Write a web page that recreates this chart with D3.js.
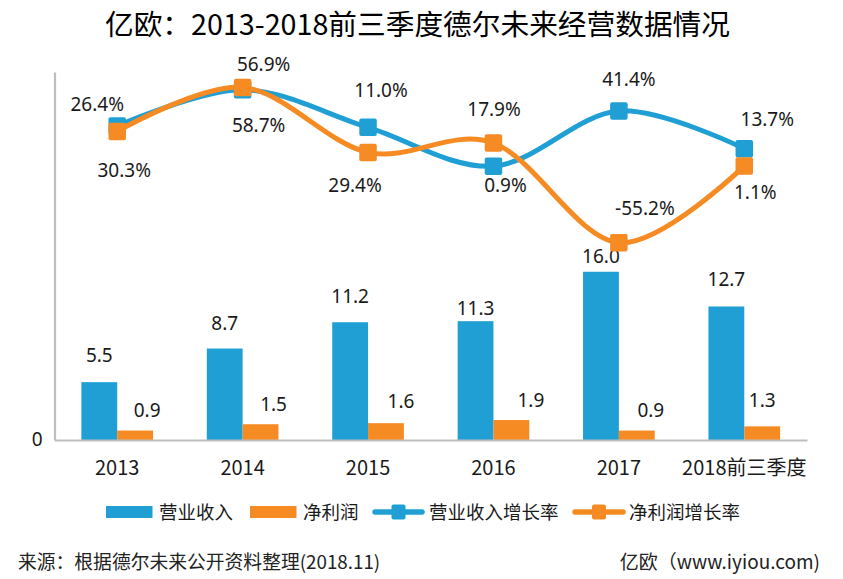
<!DOCTYPE html>
<html>
<head>
<meta charset="utf-8">
<script src="https://cdn.jsdelivr.net/npm/d3@7"></script>
<style>
  html, body { margin: 0; padding: 0; background: #fff; }
  svg { display: block; }
  text { font-family: "Noto Sans", "Noto Sans CJK SC", sans-serif; fill: #1a1a1a; }
  .cjk { font-family: "Noto Sans CJK SC", "Noto Sans", sans-serif; }
</style>
</head>
<body>
<svg id="chart" width="843" height="579"></svg>
<script>
// ---------------- data ----------------
const categories = ["2013", "2014", "2015", "2016", "2017", "2018前三季度"];
const revenue = [5.5, 8.7, 11.2, 11.3, 16.0, 12.7];          // 营业收入
const netProfit = [0.9, 1.5, 1.6, 1.9, 0.9, 1.3];             // 净利润
// growth-rate labels as printed on the chart
const revenueGrowthLabels = [26.4, 56.9, 11.0, 0.9, 41.4, 13.7];   // 营业收入增长率
const profitGrowthLabels  = [30.3, 58.7, 29.4, 17.9, -55.2, 1.1];  // 净利润增长率
// growth-rate values as the source picture actually plots the lines
const revenueGrowthPlotted = [30.3, 56.9, 29.4, 0.9, 41.4, 13.7];
const profitGrowthPlotted  = [26.4, 58.7, 11.0, 17.9, -55.2, 1.1];
const barAxisTicks = [0];

// ---------------- label nudges (layout only) ----------------
const revLabelGap   = [20, 18.6, 19.6, 6.2, 9, 20];
const npLabelDx     = [12, 13, 15, 19.5, 14, 0];
const npLabelGap    = [13.5, 13.5, 15.5, 13.3, 14, 19.6];
const revGrowthDx   = [-20, 21, 13, 12, 10, 23];
const revGrowthDy   = [-15, -19, -30.6, 26, -25, -22.7];
const npGrowthDx    = [7, 16, -13, 0.6, 26, 11];
const npGrowthDy    = [46, 44.3, 39.3, -27.3, -27.6, 33.1];

const BLUE = "#1f9fd4";
const ORANGE = "#f68b23";
const AXIS = "#bfbfbf";
const LABEL_SIZE = "19px";

const svg = d3.select("#chart");

// title
svg.append("text").attr("class", "cjk")
  .attr("x", 417.5).attr("y", 35)
  .attr("text-anchor", "middle")
  .style("font-size", "28.7px").style("fill", "#000")
  .text("亿欧：2013-2018前三季度德尔未来经营数据情况");

const plotLeft = 54.5, plotRight = 807, plotTop = 72, plotBase = 440;

const x = d3.scaleBand().domain(categories).range([plotLeft, plotRight]).padding(0);
const x1 = d3.scaleBand().domain(["rev", "np"]).range([0, x.bandwidth()])
  .paddingInner(0).paddingOuter(0.75);
const y = d3.scaleLinear().domain([0, 35]).range([plotBase, plotTop]);
const y2 = d3.scaleLinear().domain([-200, 70]).range([plotBase, plotTop]);

// bars
const g = svg.append("g");
g.selectAll("rect.rev").data(revenue).join("rect")
  .attr("x", (d, i) => x(categories[i]) + x1("rev"))
  .attr("y", d => y(d)).attr("width", x1.bandwidth())
  .attr("height", d => y(0) - y(d)).attr("fill", BLUE);
g.selectAll("rect.np").data(netProfit).join("rect")
  .attr("x", (d, i) => x(categories[i]) + x1("np"))
  .attr("y", d => y(d)).attr("width", x1.bandwidth())
  .attr("height", d => y(0) - y(d)).attr("fill", ORANGE);

// axes
const yAxis = svg.append("g").attr("transform", `translate(${plotLeft},0)`)
  .call(d3.axisLeft(y).tickValues(barAxisTicks).tickSize(0).tickSizeOuter(0).tickPadding(12));
yAxis.select(".domain").attr("stroke", AXIS).attr("stroke-width", 2.2);
yAxis.selectAll("text").style("font-size", LABEL_SIZE).style("font-family", "Noto Sans").attr("fill", "#1a1a1a").attr("dy", "0.3em");

const xAxis = svg.append("g").attr("transform", `translate(0,${plotBase})`)
  .call(d3.axisBottom(x).tickSize(0).tickSizeOuter(0).tickPadding(21));
xAxis.select(".domain").attr("stroke", AXIS).attr("stroke-width", 2.2);
xAxis.selectAll("text").attr("class", "cjk").style("font-size", "20px").attr("fill", "#1a1a1a").attr("dy", "0.71em");

// bar labels
g.selectAll("text.rev").data(revenue).join("text")
  .attr("x", (d, i) => x(categories[i]) + x1("rev") + x1.bandwidth() / 2)
  .attr("y", (d, i) => y(d) - revLabelGap[i])
  .attr("text-anchor", "middle").style("font-size", LABEL_SIZE)
  .text(d => d.toFixed(1));
g.selectAll("text.np").data(netProfit).join("text")
  .attr("x", (d, i) => x(categories[i]) + x1("np") + x1.bandwidth() / 2 + npLabelDx[i])
  .attr("y", (d, i) => y(d) - npLabelGap[i])
  .attr("text-anchor", "middle").style("font-size", LABEL_SIZE)
  .text(d => d.toFixed(1));

// lines
const cx = c => x(c) + x.bandwidth() / 2;
const line = d3.line().x((d, i) => cx(categories[i])).y(d => y2(d)).curve(d3.curveCardinal.tension(0));
const M = 17.5;

function drawSeries(vals, color) {
  const s = svg.append("g");
  s.append("path").datum(vals).attr("d", line)
    .attr("fill", "none").attr("stroke", color).attr("stroke-width", 5)
    .attr("stroke-linejoin", "round").attr("stroke-linecap", "round");
  s.selectAll("rect").data(vals).join("rect")
    .attr("x", (d, i) => cx(categories[i]) - M / 2)
    .attr("y", d => y2(d) - M / 2)
    .attr("width", M).attr("height", M).attr("rx", 2).attr("fill", color);
}
drawSeries(revenueGrowthPlotted, BLUE);
drawSeries(profitGrowthPlotted, ORANGE);

// growth labels
svg.append("g").selectAll("text").data(revenueGrowthLabels).join("text")
  .attr("x", (d, i) => cx(categories[i]) + revGrowthDx[i])
  .attr("y", (d, i) => y2(revenueGrowthPlotted[i]) + revGrowthDy[i])
  .attr("text-anchor", "middle").style("font-size", LABEL_SIZE)
  .text(d => d.toFixed(1) + "%");
svg.append("g").selectAll("text").data(profitGrowthLabels).join("text")
  .attr("x", (d, i) => cx(categories[i]) + npGrowthDx[i])
  .attr("y", (d, i) => y2(profitGrowthPlotted[i]) + npGrowthDy[i])
  .attr("text-anchor", "middle").style("font-size", LABEL_SIZE)
  .text(d => d.toFixed(1) + "%");

// legend
const lg = svg.append("g");
const ly = 512;
lg.append("rect").attr("x", 106).attr("y", ly - 6).attr("width", 46.5).attr("height", 12).attr("fill", BLUE);
lg.append("text").attr("class", "cjk").attr("x", 159).attr("y", ly + 6.5).style("font-size", "18.5px").text("营业收入");
lg.append("rect").attr("x", 250).attr("y", ly - 6).attr("width", 46.5).attr("height", 12).attr("fill", ORANGE);
lg.append("text").attr("class", "cjk").attr("x", 303).attr("y", ly + 6.5).style("font-size", "18.5px").text("净利润");
[[373, 424, BLUE, 429, "营业收入增长率"], [573, 625, ORANGE, 629, "净利润增长率"]].forEach(([a, b, c, tx, t]) => {
  lg.append("line").attr("x1", a + 2).attr("x2", b - 2).attr("y1", ly).attr("y2", ly)
    .attr("stroke", c).attr("stroke-width", 5.5).attr("stroke-linecap", "round");
  lg.append("rect").attr("x", (a + b) / 2 - 7).attr("y", ly - 7.5).attr("width", 14).attr("height", 15).attr("rx", 2).attr("fill", c);
  lg.append("text").attr("class", "cjk").attr("x", tx).attr("y", ly + 6.5).style("font-size", "18.5px").text(t);
});

// footer
svg.append("text").attr("class", "cjk").attr("x", 18).attr("y", 569)
  .style("font-size", "18.8px").style("fill", "#222")
  .text("来源：根据德尔未来公开资料整理(2018.11)");
svg.append("text").attr("class", "cjk").attr("x", 820).attr("y", 569)
  .attr("text-anchor", "end")
  .style("font-size", "19px").style("fill", "#222")
  .text("亿欧（www.iyiou.com)");
</script>
</body>
</html>
